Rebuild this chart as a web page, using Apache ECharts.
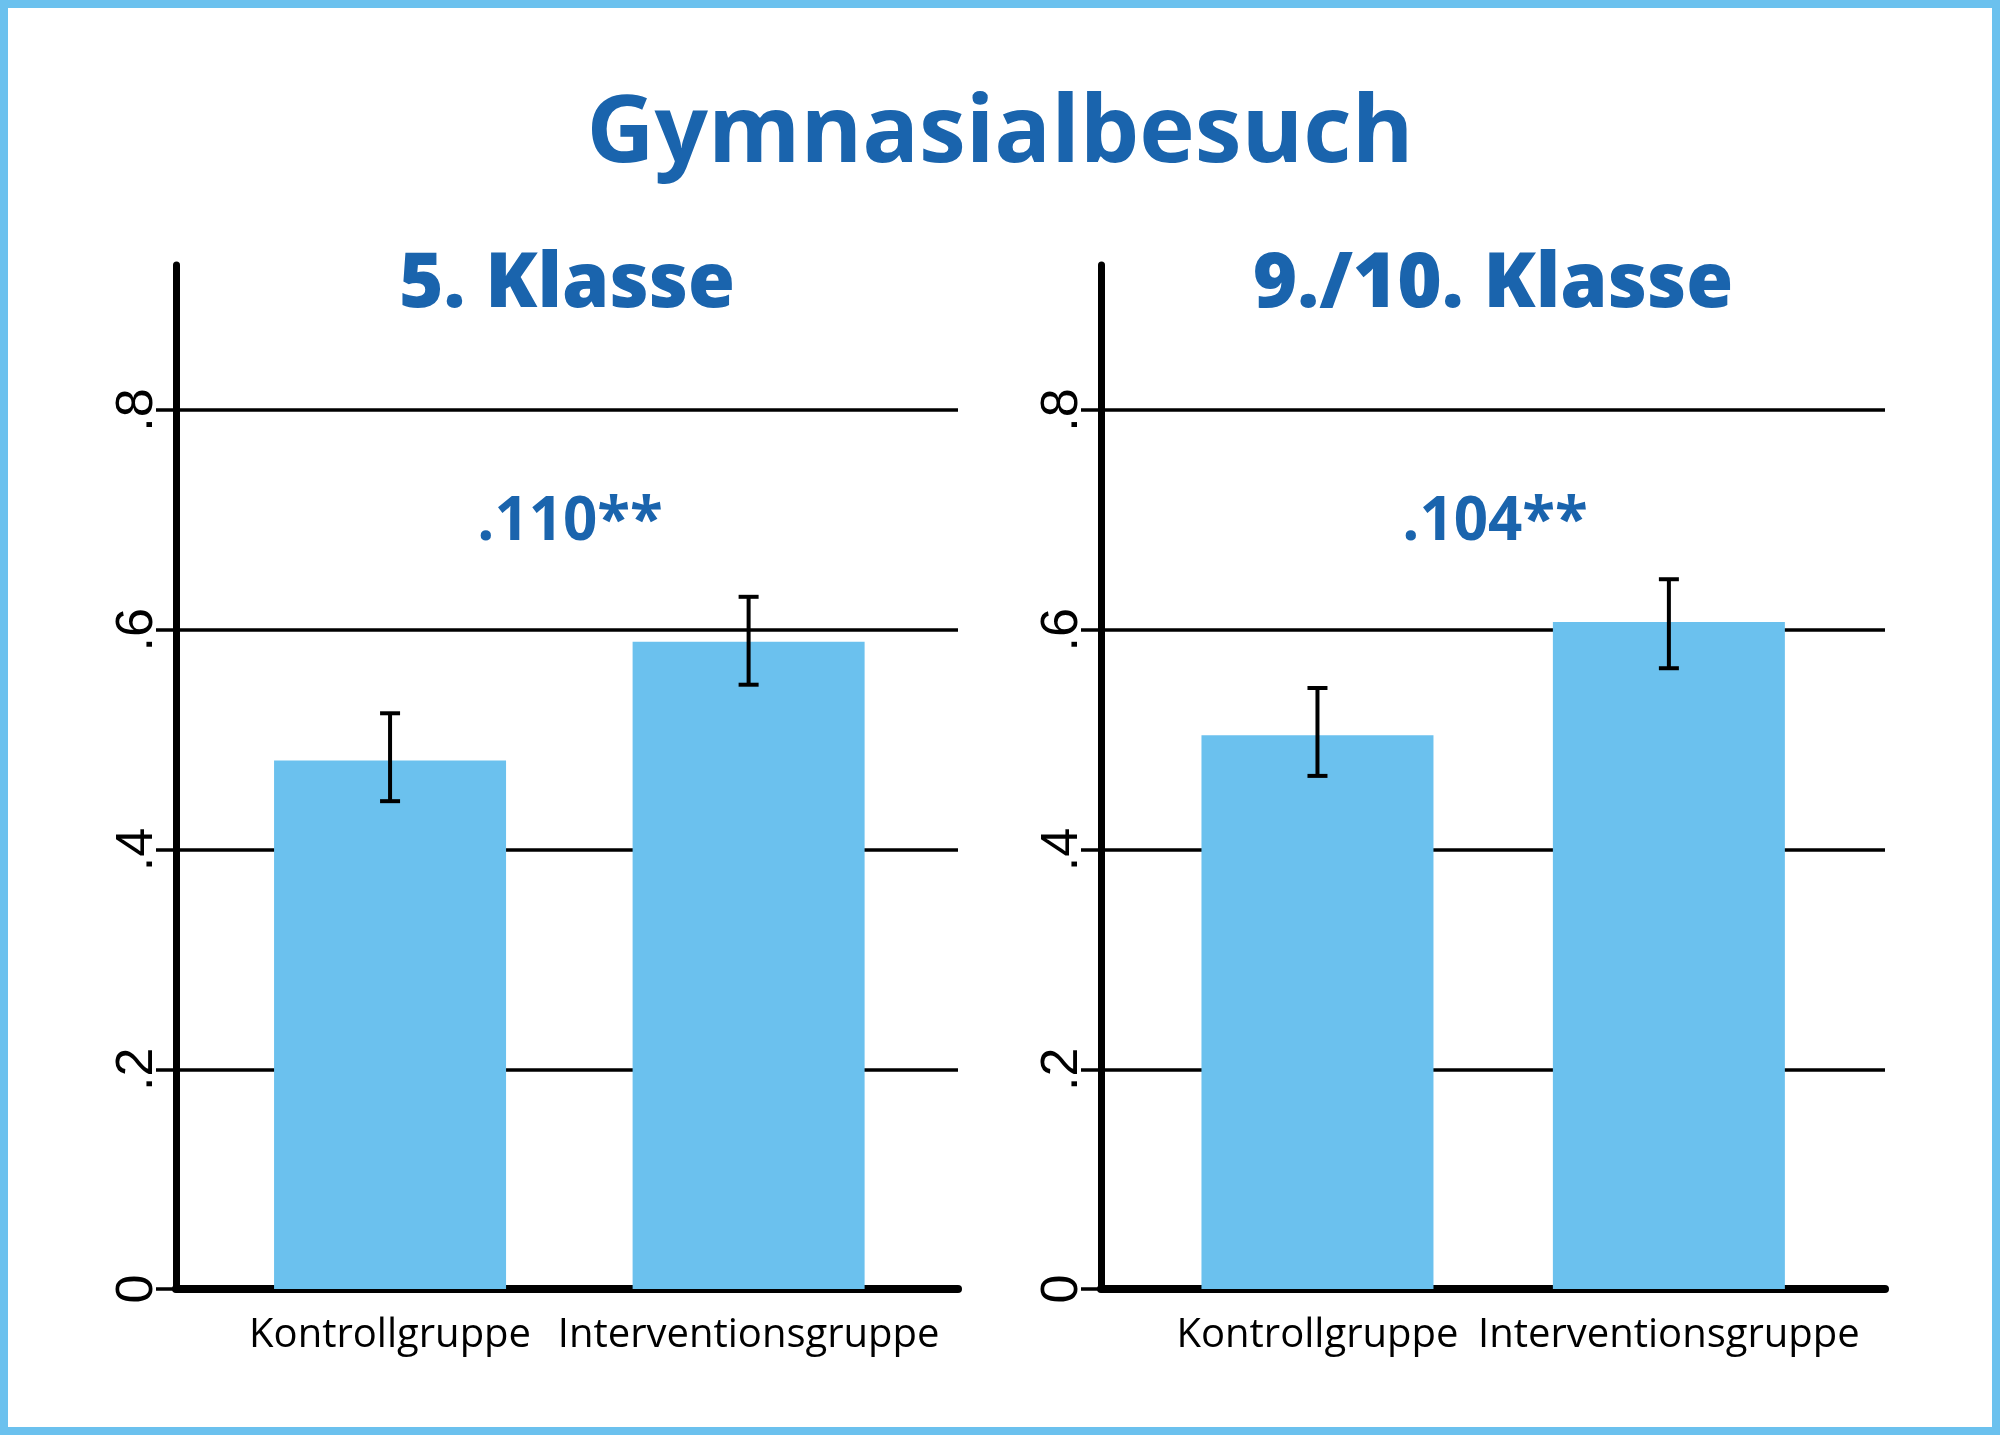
<!DOCTYPE html>
<html>
<head>
<meta charset="utf-8">
<title>Gymnasialbesuch</title>
<script src="https://cdn.jsdelivr.net/npm/echarts@6/dist/echarts.min.js"></script>
<style>
html, body { margin: 0; padding: 0; background: #fff; }
#chart { width: 2000px; height: 1435px; }
</style>
</head>
<body>
<div id="chart"></div>
<script>
var categories = ['Kontrollgruppe', 'Interventionsgruppe'];
var xPositions = [1, 2];
var panelTitles = ['5. Klasse', '9./10. Klasse'];
var effectLabels = ['.110**', '.104**'];

// 5. Klasse
var means5 = [0.481, 0.589];
var lower5 = [0.444, 0.550];
var upper5 = [0.524, 0.630];
// 9./10. Klasse
var means9 = [0.504, 0.607];
var lower9 = [0.467, 0.565];
var upper9 = [0.547, 0.646];

var yTickValues = [0, 0.2, 0.4, 0.6, 0.8];
var yTickLabels = ['0', '.2', '.4', '.6', '.8'];

var blue = '#1a64ad';
var barBlue = '#6bc1ee';

function barData(means) {
	var out = [];
	for (var i = 0; i < xPositions.length; i++) {
		out.push([xPositions[i], means[i]]);
	}
	return out;
}

function errData(lo, hi) {
	var out = [];
	for (var i = 0; i < xPositions.length; i++) {
		out.push([xPositions[i], lo[i], hi[i]]);
	}
	return out;
}

// vertical line with small caps at both ends
function renderErr(params, api) {
	var x = api.value(0);
	var pLo = api.coord([x, api.value(1)]);
	var pHi = api.coord([x, api.value(2)]);
	var hw = 10;
	var st = { stroke: '#000', lineWidth: 4 };
	return {
		type: 'group',
		children: [
			{ type: 'line', shape: { x1: pLo[0], y1: pLo[1], x2: pHi[0], y2: pHi[1] }, style: st },
			{ type: 'line', shape: { x1: pLo[0] - hw, y1: pLo[1], x2: pLo[0] + hw, y2: pLo[1] }, style: st },
			{ type: 'line', shape: { x1: pHi[0] - hw, y1: pHi[1], x2: pHi[0] + hw, y2: pHi[1] }, style: st }
		]
	};
}

function makeX(idx, lo, hi) {
	return {
		type: 'value',
		gridIndex: idx,
		min: lo,
		max: hi,
		axisLine: { show: true, onZero: true, lineStyle: { color: '#000', width: 8 } },
		axisTick: { show: false },
		splitLine: { show: false },
		axisLabel: {
			customValues: xPositions,
			formatter: function (v) { return categories[xPositions.indexOf(v)] || ''; },
			margin: 27,
			fontSize: 40,
			fontFamily: 'Open Sans',
			color: '#000'
		}
	};
}

function makeY(idx) {
	return {
		type: 'value',
		gridIndex: idx,
		min: 0,
		max: 0.932,
		axisLine: { show: true, lineStyle: { color: '#000', width: 7 } },
		axisTick: { show: true, length: 20, customValues: yTickValues, lineStyle: { color: '#000', width: 3.5 } },
		splitLine: { show: true, lineStyle: { color: '#000', width: 3.5 } },
		axisLabel: {
			customValues: yTickValues,
			formatter: function (v) { return yTickLabels[yTickValues.indexOf(v)]; },
			rotate: 90,
			margin: 12,
			fontSize: 52,
			fontFamily: 'Liberation Sans',
			color: '#000'
		}
	};
}

var chart = echarts.init(document.getElementById('chart'));
chart.setOption({
	backgroundColor: '#fff',
	animation: false,
	title: [
		{ text: 'Gymnasialbesuch', left: 1000, top: 88, textAlign: 'center', padding: 0,
		  textStyle: { color: blue, fontSize: 94, fontWeight: 'bold', fontFamily: 'Open Sans' } },
		{ text: panelTitles[0], left: 567, top: 247, textAlign: 'center', padding: 0,
		  textStyle: { color: blue, fontSize: 76, fontWeight: 800, fontFamily: 'Open Sans' } },
		{ text: panelTitles[1], left: 1493, top: 247, textAlign: 'center', padding: 0,
		  textStyle: { color: blue, fontSize: 76, fontWeight: 800, fontFamily: 'Open Sans' } },
		{ text: effectLabels[0], left: 570, top: 493, textAlign: 'center', padding: 0,
		  textStyle: { color: blue, fontSize: 60, fontWeight: 'bold', fontFamily: 'Open Sans' } },
		{ text: effectLabels[1], left: 1495, top: 493, textAlign: 'center', padding: 0,
		  textStyle: { color: blue, fontSize: 60, fontWeight: 'bold', fontFamily: 'Open Sans' } }
	],
	graphic: [
		{ type: 'rect', z: 100, silent: true,
		  shape: { x: 4, y: 4, width: 1992, height: 1427 },
		  style: { fill: 'none', stroke: barBlue, lineWidth: 8 } }
	],
	grid: [
		{ left: 176, right: 1042, top: 265, bottom: 146 },
		{ left: 1101, right: 115, top: 265, bottom: 146 }
	],
	xAxis: [makeX(0, 0.403, 2.584), makeX(1, 0.384, 2.615)],
	yAxis: [makeY(0), makeY(1)],
	series: [
		{ type: 'bar', xAxisIndex: 0, yAxisIndex: 0, barWidth: 232, data: barData(means5),
		  itemStyle: { color: barBlue } },
		{ type: 'bar', xAxisIndex: 1, yAxisIndex: 1, barWidth: 232, data: barData(means9),
		  itemStyle: { color: barBlue } },
		{ type: 'custom', xAxisIndex: 0, yAxisIndex: 0, renderItem: renderErr, data: errData(lower5, upper5), z: 5 },
		{ type: 'custom', xAxisIndex: 1, yAxisIndex: 1, renderItem: renderErr, data: errData(lower9, upper9), z: 5 }
	]
});
</script>
</body>
</html>
